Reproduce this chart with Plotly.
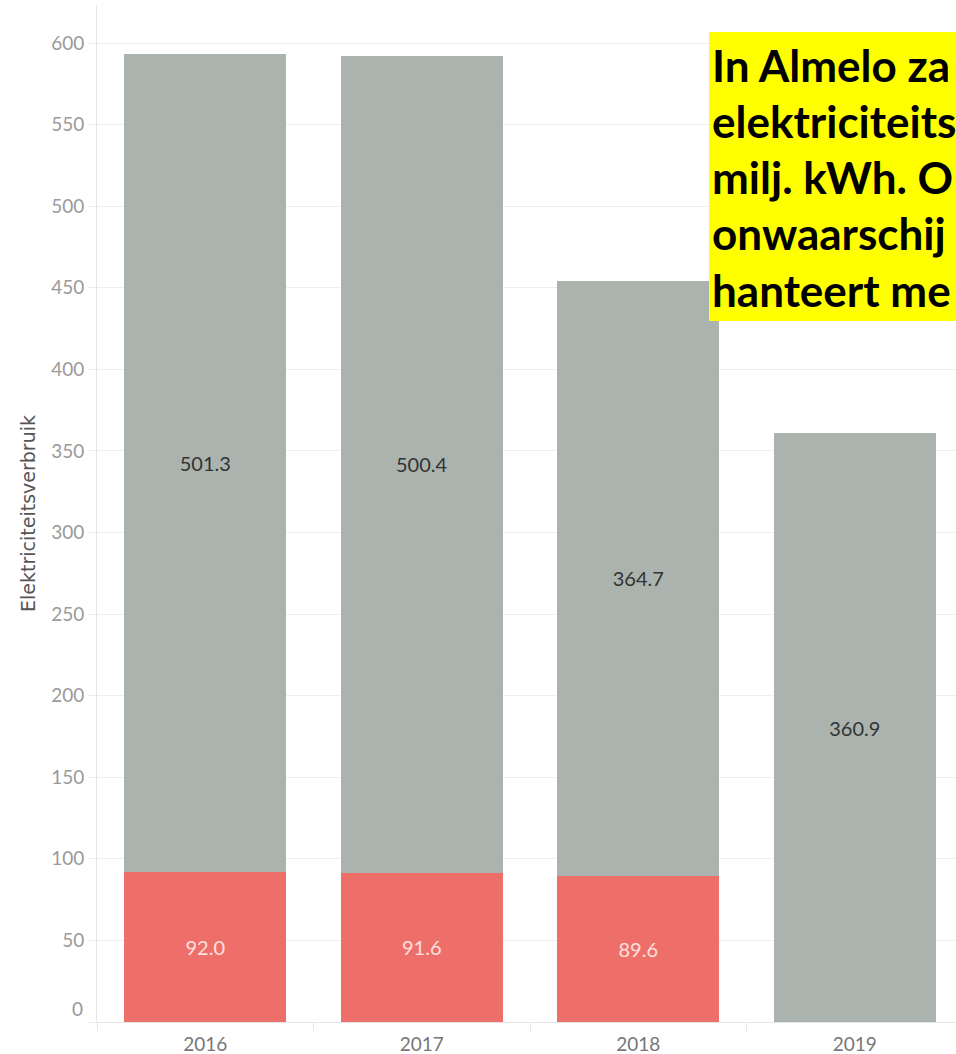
import plotly.graph_objects as go

# ---- data ----
years = ["2016", "2017", "2018", "2019"]
red_vals = [92.0, 91.6, 89.6, None]
grey_vals = [501.3, 500.4, 364.7, 360.9]
y_ticks = [0, 50, 100, 150, 200, 250, 300, 350, 400, 450, 500, 550, 600]
y_title = "Elektriciteitsverbruik"
# visible (cut-off) part of the note in the reference
note_lines = [
    "In Almelo za",
    "elektriciteits",
    "milj. kWh. O",
    "onwaarschij",
    "hanteert me",
]

RED = "#ee6f6a"
GREY = "#abb3ae"
FONT = "Lato"

W, H = 956, 1054
ML, MR, MT, MB = 97, 0, 5, 32
plot_w = W - ML - MR
plot_h = H - MT - MB
band = 216.5
x_max = -0.5 + plot_w / band


def px_x(px):
    return (px - ML) / plot_w


def px_y(py):
    return (H - MB - py) / plot_h


fig = go.Figure()
fig.add_trace(go.Bar(
    x=years, y=red_vals, marker=dict(color=RED, line=dict(width=0)),
    width=0.75,
    text=[("%.1f" % v) if v is not None else "" for v in red_vals],
    textposition="inside", insidetextanchor="middle",
    textfont=dict(family=FONT, size=20, color="#fde0de"),
    hoverinfo="skip", showlegend=False,
))
fig.add_trace(go.Bar(
    x=years, y=grey_vals, marker=dict(color=GREY, line=dict(width=0)),
    width=0.75,
    text=["%.1f" % v for v in grey_vals],
    textposition="inside", insidetextanchor="middle",
    textfont=dict(family=FONT, size=20, color="#333333"),
    hoverinfo="skip", showlegend=False,
))

fig.update_layout(
    barmode="stack",
    width=W, height=H,
    margin=dict(l=ML, r=MR, t=MT, b=MB, pad=0),
    paper_bgcolor="white", plot_bgcolor="white",
    font=dict(family=FONT),
)
fig.update_xaxes(
    range=[-0.5, x_max],
    showgrid=False,
    showline=True, linecolor="#e6e6e6", linewidth=1,
    ticks="outside", tickson="boundaries", ticklen=8, tickcolor="#e6e6e6",
    tickfont=dict(family=FONT, size=19, color="#777777"),
    ticklabelstandoff=5,
    fixedrange=True,
)
fig.update_yaxes(
    range=[0, 623.3],
    tickvals=y_ticks,
    ticktext=["" if v == 0 else str(v) for v in y_ticks],
    showgrid=True, gridcolor="#efefef", gridwidth=1,
    zeroline=False,
    showline=True, linecolor="#e6e6e6", linewidth=1,
    ticks="outside", ticklen=8, tickcolor="#ececec",
    tickfont=dict(family=FONT, size=19, color="#9a9a9a"),
    title=dict(text=y_title, font=dict(family="DejaVu Sans", size=19, color="#555555"), standoff=10),
    fixedrange=True,
)

# bottom "0" label (shifted up like the original)
fig.add_annotation(
    xref="paper", yref="y", x=0, y=y_ticks[0], text=str(y_ticks[0]),
    xanchor="right", yanchor="middle", xshift=-12, yshift=14,
    showarrow=False, font=dict(family=FONT, size=19, color="#9a9a9a"),
)

# yellow note box
fig.add_shape(
    type="rect", xref="paper", yref="paper",
    x0=px_x(709), x1=1.0, y0=px_y(321), y1=px_y(32),
    fillcolor="#ffff00", line=dict(width=0), layer="above",
)
line_y = [65, 121, 177, 233, 290]
for txt, yy in zip(note_lines, line_y):
    fig.add_annotation(
        xref="paper", yref="paper", x=px_x(710), y=px_y(yy),
        xanchor="left", yanchor="middle", align="left",
        text="<b>%s</b>" % txt, showarrow=False,
        font=dict(family=FONT, size=44, color="black"),
    )

fig.write_html(
    "out.html",
    config={"displayModeBar": False, "staticPlot": True},
    post_script="document.body.style.margin='0';document.body.style.overflow='hidden';",
)
